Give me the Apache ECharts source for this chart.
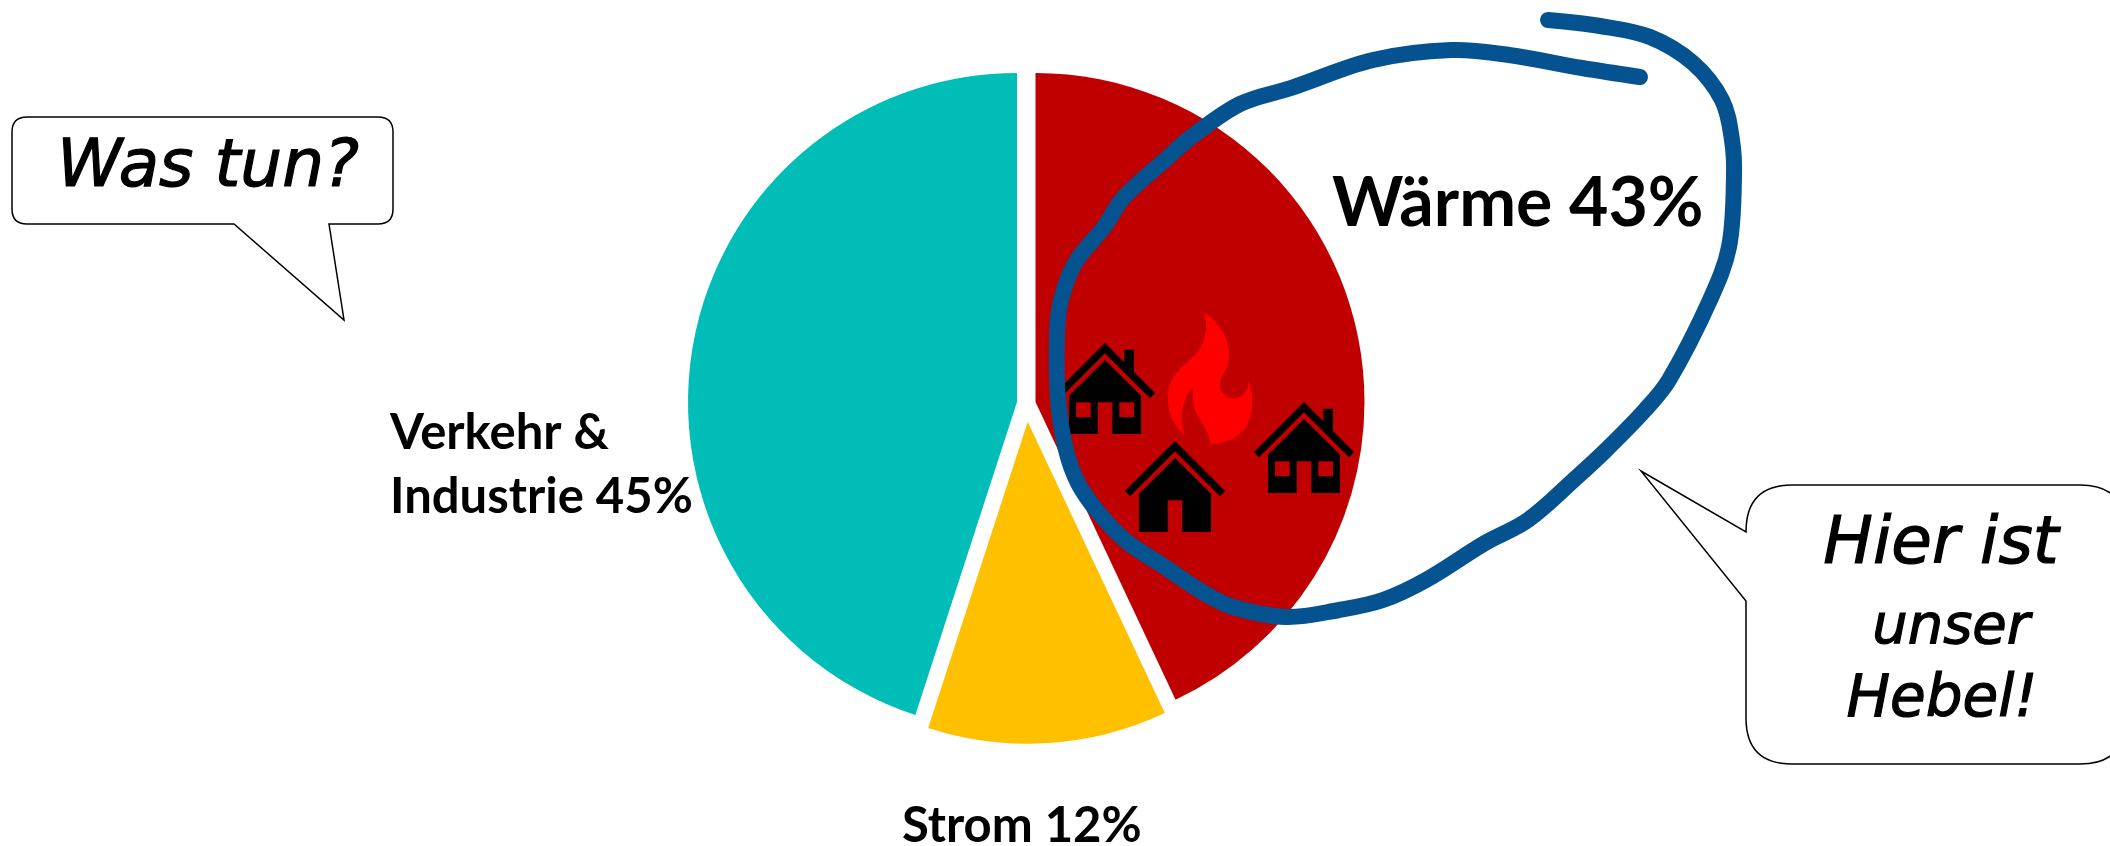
<!DOCTYPE html>
<html>
<head>
<meta charset="utf-8">
<style>html,body{margin:0;padding:0;background:#fff}#chart{width:2110px;height:846px}</style>
<script src="https://cdn.jsdelivr.net/npm/echarts@6/dist/echarts.min.js"></script>
</head>
<body>
<div id="chart"></div>
<script>
const categories = ['Wärme', 'Strom', 'Verkehr &\nIndustrie'];
const values = [43, 12, 45];
const colors = ['#C00000', '#FFC000', '#00BDB8'];
const sliceGeometry = [
  {center: [1035.5, 402], radius: 329},
  {center: [1027.7, 421.7], radius: 322},
  {center: [1017, 402], radius: 329}
];
const labelAnchors = [
  {x: 1332, y: 204, size: 68},
  {x: 902, y: 826, size: 49},
  {x: 390, y: 465, size: 49}
];

const strokePoints = [
  [1548,20],[1600,26],[1650,37],[1693,63],[1722,100],[1732,140],[1734,177],[1729,247],[1710,300],
  [1669,380],[1645,410],[1606,450],[1577,477],[1528,520],[1485,543],[1426,580],[1383,600],[1339,610],
  [1286,617],[1233,607],[1204,593],[1165,567],[1126,541],[1098,512],[1078,483],[1066,450],[1058,400],
  [1057,333],[1061,300],[1075,263],[1104,227],[1124,197],[1165,160],[1190,138],[1240,104],[1291,88],
  [1373,60],[1451,50],[1509,55],[1582,68],[1640,77]
];

const flamePath = 'M611 97C650 120 690 170 688 230C685 270 660 290 660 315C660 340 680 355 703 355C725 355 745 335 746 302C760 340 765 400 735 445C710 480 670 492 631 492C625 440 595 420 585 390C575 365 578 340 580 320C550 350 535 410 555 465C520 440 500 395 504 345C508 290 545 260 575 235C610 205 630 150 611 97Z';
const bubbleOne = 'M27 117L378 117Q393 117 393 132L393 209Q393 224 378 224L329 224L344 320L234 224L27 224Q12 224 12 209L12 132Q12 117 27 117Z';
const bubbleTwo = 'M1792 485L2080 485Q2126 485 2126 531L2126 718Q2126 764 2080 764L1792 764Q1746 764 1746 718L1746 601L1641 471L1746 532Q1746 485 1792 485Z';

let shapeCount = 0;
function pathEl(d, style, z, extra) {
  const name = 'annot' + (shapeCount++);
  echarts.graphic.registerShape(name, echarts.graphic.extendPath(d, {}));
  return Object.assign({type: name, z, style}, extra || {});
}
function housePath(ax, ay, chimney) {
  const P = pts => 'M' + pts.map(p => (ax + p[0]) + ' ' + (ay + p[1])).join('L') + 'Z';
  let d = P([[0,0],[50,50],[45,55.3],[0,10.3],[-45,55.3],[-50,50]]);
  if (chimney) d += P([[19.3,6.7],[29,6.7],[29,29],[19.3,19.5]]);
  d += P([[0,17],[36,52.7],[36,91],[7.3,91],[7.3,59.3],[-7.3,59.3],[-7.3,91],[-36,91],[-36,52.7]]);
  return d;
}
function windows(ax, ay) {
  return [[-29,-14.3],[14.3,29]].map(w => ({
    type: 'rect', z: 5,
    shape: {x: ax + w[0], y: ay + 59.3, width: w[1] - w[0], height: 15},
    style: {fill: '#C00000'}
  }));
}
function house(ax, ay, chimney) {
  return [pathEl(housePath(ax, ay, chimney), {fill: '#000'}, 5)].concat(chimney ? windows(ax, ay) : []);
}
function hand(text, x, baseline, size) {
  return {type: 'text', z: 8, style: {
    text, x, y: baseline - size * 52 / 66, align: 'center', verticalAlign: 'top',
    font: 'italic 400 ' + size + 'px "DejaVu Sans"', fill: '#000', stroke: '#000', lineWidth: 1.2
  }};
}

// One pie per wedge: each wedge is pulled out from its own apex, as in the picture.
function wedgeSeries(i) {
  return {
    type: 'pie',
    center: sliceGeometry[i].center,
    radius: [0, sliceGeometry[i].radius],
    startAngle: 90,
    clockwise: true,
    silent: true,
    data: categories.map((c, j) => ({
      name: c, value: values[j],
      itemStyle: {color: j === i ? colors[j] : 'rgba(0,0,0,0)'},
      label: {show: j === i, fontSize: labelAnchors[j].size}
    })),
    label: {
      position: 'outside',
      formatter: p => p.name + ' ' + p.value + '%',
      fontFamily: 'Lato', fontWeight: 700, color: '#000',
      align: 'left', lineHeight: 64
    },
    labelLine: {show: false},
    labelLayout: p => ({
      x: labelAnchors[p.dataIndex].x,
      y: labelAnchors[p.dataIndex].y,
      align: 'left', verticalAlign: 'middle'
    })
  };
}

const chart = echarts.init(document.getElementById('chart'), null, {renderer: 'canvas'});
chart.setOption({
  animation: false,
  backgroundColor: '#fff',
  series: categories.map((c, i) => wedgeSeries(i)),
  graphic: {elements: [
    pathEl(flamePath, {fill: '#FF0000'}, 4, {x: 1000, y: 280, scaleX: 1/3, scaleY: 1/3}),
    ...house(1105, 343, true),
    ...house(1175, 441, false),
    ...house(1304, 402, true),
    {type: 'polyline', z: 6, shape: {points: strokePoints, smooth: 0.35},
      style: {stroke: '#04528F', lineWidth: 16, lineCap: 'round', lineJoin: 'round', fill: null}},
    pathEl(bubbleOne, {fill: '#fff', stroke: '#000', lineWidth: 1.5, lineJoin: 'miter'}, 7),
    pathEl(bubbleTwo, {fill: '#fff', stroke: '#000', lineWidth: 1.5, lineJoin: 'miter'}, 7),
    hand('Was tun?', 208, 188, 66),
    hand('Hier ist', 1941, 565, 66),
    hand('unser', 1951, 645, 56),
    hand('Hebel!', 1942, 718, 58)
  ]}
});
</script>
</body>
</html>
